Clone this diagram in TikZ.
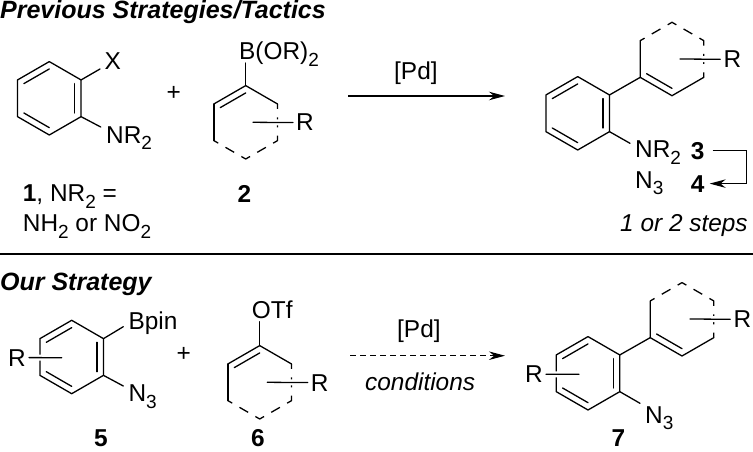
\documentclass[tikz,border=0pt]{standalone}
\usepackage{fontspec}
\setmainfont{Liberation Sans}
\usetikzlibrary{calc,arrows.meta}
\tikzset{bond/.style={line width=1.3pt,line cap=round,line join=round},
dashbond/.style={bond,line cap=butt,dash pattern=on 10pt off 8.35pt,dash phase=5pt},
subbond/.style={bond,shorten >=3pt,preaction={draw,white,line width=6pt,line cap=butt}},
lbl/.style={inner sep=0pt,anchor=base west,font=\fontsize{24.4}{28}\selectfont},
num/.style={lbl,font=\fontsize{24.4}{28}\selectfont\bfseries},
headline/.style={lbl,font=\fontsize{25}{28}\selectfont\bfseries\itshape},
rxn/.style={line width=1.1pt,-{Stealth[length=16pt,width=8.5pt]}}}
\newcommand{\lowsub}[1]{\raisebox{-6.5pt}{\fontsize{19}{19}\selectfont #1}}
\newcommand{\hexring}[3]{\coordinate (#1) at (#2,#3);
\foreach \i in {1,...,6}{
\coordinate (#1\i) at ($(#1)+({60*\i-150}:36.7)$);
}}
\newcommand{\innerbond}[3]{\draw[bond] ($(#1)!.8!(#1#2)$) -- ($(#1)!.8!(#1#3)$);}
\newcommand{\benzene}[1]{\draw[bond] (#11) -- (#12) -- (#13) -- (#14) -- (#15) -- (#16) -- cycle;
\innerbond{#1}{6}{1}
\innerbond{#1}{2}{3}
\innerbond{#1}{4}{5}
}
\begin{document}
\begin{tikzpicture}[x=1pt,y=-1pt]
\useasboundingbox (0,0) rectangle (753,452);

\node[headline] (prevhead) at (0,18.5) {Previous Strategies/Tactics};

\hexring{aryla}{49.3}{98.3}
\benzene{aryla}
\coordinate (xend) at (100,69);
\coordinate (nrend) at (100.7,127);
\draw[bond] (aryla2) -- (xend);
\draw[bond] (aryla3) -- (nrend);
\node[lbl] (xa) at (104.5,70) {X};
\node[lbl] (nra) at (106,143) {NR\lowsub{2}};
\node[lbl] (plusa) at (166.5,101) {+};
\node[num] (numa) at (22.7,201.7) {1\textmd{, NR\lowsub{2} =}};
\node[lbl] (nha) at (22.7,231.7) {NH\lowsub{2} or NO\lowsub{2}};

\hexring{enea}{245.7}{122.3}
\draw[bond] (enea6) -- (enea1) -- (enea2);
\draw[bond] (enea6) -- (enea5);
\innerbond{enea}{6}{1}
\draw[dashbond] (enea2) -- (enea3) -- (enea4) -- (enea5);
\coordinate (boronend) at (245.7,63);
\coordinate (rstarta) at (253,122.3);
\node[lbl] (boron) at (239,60) {B(OR)\lowsub{2}};
\node[lbl] (ra) at (296,131) {R};
\draw[bond] (enea1) -- (boronend);
\draw[subbond] (rstarta) -- (ra.west);
\node[num] (numb) at (237.5,202) {2};

\coordinate (arrastart) at (348,96);
\coordinate (arraend) at (505,96);
\draw[rxn] (arrastart) -- (arraend);
\node[lbl] (pda) at (394,80) {[Pd]};

\hexring{arylb}{577.7}{113.3}
\benzene{arylb}
\hexring{eneb}{672}{59}
\draw[bond] (eneb6) -- (eneb5) -- (eneb4) -- (eneb3);
\innerbond{eneb}{5}{4}
\draw[dashbond] (eneb6) -- (eneb1) -- (eneb2) -- (eneb3);
\draw[bond] (arylb2) -- (eneb5);
\coordinate (nrendb) at (630,143.3);
\coordinate (rstartb) at (680,59);
\node[lbl] (rb) at (723.3,67.7) {R};
\draw[subbond] (rstartb) -- (rb.west);
\draw[bond] (arylb3) -- (nrendb);
\node[lbl] (nrb) at (635,157.7) {NR\lowsub{2}};
\node[num] (numc) at (690.7,159) {3};
\node[lbl] (azb) at (635,188) {N\lowsub{3}};
\node[num] (numd) at (690.7,192) {4};
\coordinate (turn) at (746.7,168);
\draw[line width=1.1pt] ([xshift=8pt]numc.east) -| (turn);
\draw[rxn] (turn) |- ([xshift=5pt]numd.east);
\node[lbl,font=\fontsize{24.4}{28}\selectfont\itshape] (steps) at (620,231.7) {1 or 2 steps};

\coordinate (ruleleft) at (0,254);
\coordinate (ruleright) at (753,254);
\draw[line width=1.3pt] (ruleleft) -- (ruleright);

\node[headline] (ourhead) at (0,290) {Our Strategy};

\hexring{arylc}{71.7}{357}
\benzene{arylc}
\coordinate (bpinend) at (123.3,326.7);
\coordinate (azendc) at (123.3,386);
\coordinate (rstartc) at (61.7,357.7);
\draw[bond] (arylc2) -- (bpinend);
\draw[bond] (arylc3) -- (azendc);
\node[lbl] (rc) at (8,366) {R};
\draw[subbond,shorten >=0pt,shorten <=3pt] (rc.east) -- (rstartc);
\node[lbl] (bpin) at (128.3,329.3) {Bpin};
\node[lbl] (azc) at (128.3,401.7) {N\lowsub{3}};
\node[lbl] (plusb) at (176.5,361) {+};
\node[num] (nume) at (94,446.5) {5};

\hexring{enec}{259.7}{382.3}
\draw[bond] (enec6) -- (enec1) -- (enec2);
\draw[bond] (enec6) -- (enec5);
\innerbond{enec}{6}{1}
\draw[dashbond] (enec2) -- (enec3) -- (enec4) -- (enec5);
\coordinate (otfend) at (259.7,321.7);
\coordinate (rstartd) at (267.3,382.3);
\node[lbl] (otf) at (251.7,318.3) {OTf};
\node[lbl] (rd) at (310.7,391) {R};
\draw[bond] (enec1) -- (otfend);
\draw[subbond] (rstartd) -- (rd.west);
\node[num] (numf) at (251,446.5) {6};

\coordinate (arrbstart) at (350,355.7);
\coordinate (arrbend) at (505,355.7);
\draw[rxn,dash pattern=on 6pt off 4pt] (arrbstart) -- (arrbend);
\node[lbl] (pdb) at (397,337) {[Pd]};
\node[lbl,font=\fontsize{24.4}{28}\selectfont\itshape] (cond) at (365,390) {conditions};

\hexring{aryld}{588}{373.3}
\benzene{aryld}
\hexring{ened}{682}{319.3}
\draw[bond] (ened6) -- (ened5) -- (ened4) -- (ened3);
\innerbond{ened}{5}{4}
\draw[dashbond] (ened6) -- (ened1) -- (ened2) -- (ened3);
\draw[bond] (aryld2) -- (ened5);
\coordinate (azendd) at (640,403.3);
\coordinate (rstarte) at (690,319);
\coordinate (rstartf) at (579,374.3);
\node[lbl] (re) at (733.3,327.7) {R};
\draw[subbond] (rstarte) -- (re.west);
\node[lbl] (rf) at (525,382.7) {R};
\draw[subbond,shorten >=0pt,shorten <=3pt] (rf.east) -- (rstartf);
\draw[bond] (aryld3) -- (azendd);
\node[lbl] (azd) at (645,423) {N\lowsub{3}};
\node[num] (numg) at (611.5,446.5) {7};
\end{tikzpicture}
\end{document}
